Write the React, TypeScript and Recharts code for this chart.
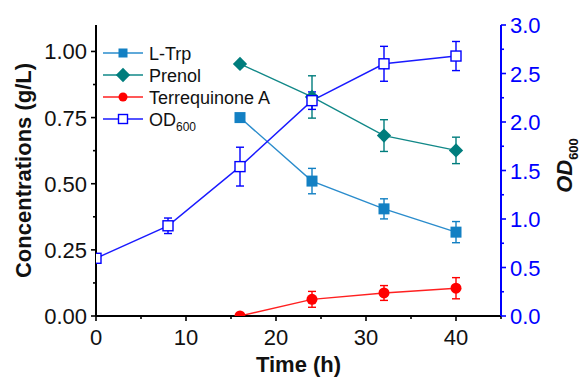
import React from "react";
import { ComposedChart, Line, XAxis, YAxis, ErrorBar, Legend } from "recharts";

const times = [0, 8, 16, 24, 32, 40];
const lTrp = [null, null, 0.75, 0.51, 0.405, 0.317];
const lTrpErr = [null, null, 0, 0.048, 0.038, 0.04];
const prenol = [null, null, 0.953, 0.828, 0.682, 0.626];
const prenolErr = [null, null, 0, 0.08, 0.06, 0.05];
const terrequinone = [null, null, 0, 0.063, 0.087, 0.105];
const terrequinoneErr = [null, null, 0, 0.03, 0.028, 0.04];
const od600 = [0.595, 0.93, 1.54, 2.22, 2.6, 2.68];
const od600Err = [0, 0.08, 0.2, 0.09, 0.18, 0.15];

const xTicks = [0, 5, 10, 15, 20, 25, 30, 35, 40, 45];
const leftTicks = [0, 0.125, 0.25, 0.375, 0.5, 0.625, 0.75, 0.875, 1.0];
const rightTicks = [0, 0.25, 0.5, 0.75, 1, 1.25, 1.5, 1.75, 2, 2.25, 2.5, 2.75, 3];

const FONT = '"Liberation Sans", Arial, Helvetica, sans-serif';
const BLUE = "#0000ff";

const data = times.map((t, i) => ({
  t,
  lTrp: lTrp[i],
  lTrpErr: lTrpErr[i],
  prenol: prenol[i],
  prenolErr: prenolErr[i],
  terrequinone: terrequinone[i],
  terrequinoneErr: terrequinoneErr[i],
  od600: od600[i],
  od600Err: od600Err[i],
}));

const series = [
  { key: "lTrp", name: "L-Trp", color: "#1380c3", line: "#2a8ccc", marker: "square" },
  { key: "prenol", name: "Prenol", color: "#007d7d", line: "#118888", marker: "diamond" },
  { key: "terrequinone", name: "Terrequinone A", color: "#ff0000", line: "#ff2020", marker: "circle" },
  { key: "od600", name: "OD", color: BLUE, line: "#1a1aff", marker: "open" },
];

function marker(type: string, color: string, cx: number, cy: number, s: number, key?: any) {
  if (type === "square")
    return <rect key={key} x={cx - s / 2} y={cy - s / 2} width={s} height={s} fill={color} />;
  if (type === "diamond") {
    const r = s * 0.65;
    return (
      <polygon key={key} points={`${cx},${cy - r} ${cx + r},${cy} ${cx},${cy + r} ${cx - r},${cy}`} fill={color} />
    );
  }
  if (type === "circle") return <circle key={key} cx={cx} cy={cy} r={s / 2} fill={color} />;
  return (
    <rect key={key} x={cx - s / 2} y={cy - s / 2} width={s} height={s} fill="#fff" stroke={color} strokeWidth={1.4} />
  );
}

const makeDot = (type: string, color: string, size: number) => (props: any) => {
  const { cx, cy, index } = props;
  if (cx == null || cy == null || isNaN(cx) || isNaN(cy)) return <g key={`e${index}`} />;
  return marker(type, color, cx, cy, size, `d${index}`);
};

const BottomTick = (props: any) => {
  const { x, y, payload } = props;
  const major = payload.value % 10 === 0;
  return (
    <g>
      <line x1={x} x2={x} y1={y} y2={y + (major ? 5 : 3)} stroke="#000" strokeWidth={1.6} />
      {major && (
        <text x={x} y={y + 29} textAnchor="middle" fontSize={22} fontFamily={FONT} fill="#111">
          {payload.value}
        </text>
      )}
    </g>
  );
};

const TopTick = (props: any) => {
  const { x, y, payload } = props;
  const major = payload.value % 10 === 0;
  return <line x1={x} x2={x} y1={y} y2={y + (major ? 5 : 3)} stroke="#000" strokeWidth={1.6} />;
};

const LeftTick = (props: any) => {
  const { x, y, payload } = props;
  const v = payload.value;
  const major = Math.abs(v * 4 - Math.round(v * 4)) < 1e-6;
  return (
    <g>
      <line x1={x - (major ? 5 : 3)} x2={x} y1={y} y2={y} stroke="#000" strokeWidth={1.6} />
      {major && (
        <text x={x - 9} y={y + 8} textAnchor="end" fontSize={22} fontFamily={FONT} fill="#111">
          {v.toFixed(2)}
        </text>
      )}
    </g>
  );
};

const RightTick = (props: any) => {
  const { x, y, payload } = props;
  const v = payload.value;
  const major = Math.abs(v * 2 - Math.round(v * 2)) < 1e-6;
  return (
    <g>
      <line x1={x} x2={x + (major ? 5 : 3)} y1={y} y2={y} stroke={BLUE} strokeWidth={1.6} />
      {major && (
        <text x={x + 9} y={y + 8} textAnchor="start" fontSize={22} fontFamily={FONT} fill={BLUE}>
          {v.toFixed(1)}
        </text>
      )}
    </g>
  );
};

const LegendBox = () => (
  <svg width={170} height={95} style={{ display: "block" }}>
    {series.map((s, i) => {
      const cy = 11 + i * 22;
      return (
        <g key={s.key}>
          <line x1={2} x2={42} y1={cy} y2={cy} stroke={s.line} strokeWidth={1.6} />
          {marker(s.marker, s.color, 22, cy, s.marker === "diamond" ? 11 : 9)}
          <text x={48} y={cy + 6.5} fontSize={18} fontFamily={FONT} fill="#111">
            {s.name}
            {s.key === "od600" && (
              <tspan fontSize={12} dy={5}>
                600
              </tspan>
            )}
          </text>
        </g>
      );
    })}
  </svg>
);

export default function App() {
  return (
    <div style={{ position: "absolute", left: 0, top: 0, background: "#fff" }}>
      <ComposedChart width={579} height={377} data={data} margin={{ top: 25, right: 0, bottom: 0, left: 0 }}>
        <XAxis
          dataKey="t"
          type="number"
          domain={[0, 45]}
          ticks={xTicks}
          interval={0}
          allowDataOverflow
          height={61}
          tickSize={0}
          tickMargin={0}
          tick={<BottomTick />}
          tickLine={false}
          axisLine={{ stroke: "#000", strokeWidth: 2 }}
          label={(p: any) => {
            const vb = p.viewBox;
            return (
              <text
                x={vb.x + vb.width / 2}
                y={vb.y + 56}
                textAnchor="middle"
                fontSize={22}
                fontWeight="bold"
                fontFamily={FONT}
                fill="#111"
              >
                Time (h)
              </text>
            );
          }}
        />
        <XAxis
          xAxisId="top"
          orientation="top"
          dataKey="t"
          type="number"
          domain={[0, 45]}
          ticks={xTicks}
          interval={0}
          allowDataOverflow
          height={0}
          tickSize={0}
          tickMargin={0}
          tick={<TopTick />}
          tickLine={false}
          axisLine={{ stroke: "#000", strokeWidth: 2 }}
        />
        <YAxis
          yAxisId="left"
          type="number"
          domain={[0, 1.1]}
          ticks={leftTicks}
          interval={0}
          allowDataOverflow
          width={96}
          tickSize={0}
          tickMargin={0}
          tick={<LeftTick />}
          tickLine={false}
          axisLine={{ stroke: "#000", strokeWidth: 2 }}
          label={(p: any) => {
            const vb = p.viewBox;
            const cx = vb.x + 31;
            const cy = vb.y + vb.height / 2;
            return (
              <text
                x={cx}
                y={cy}
                transform={`rotate(-90, ${cx}, ${cy})`}
                textAnchor="middle"
                fontSize={22}
                fontWeight="bold"
                fontFamily={FONT}
                fill="#111"
              >
                Concentrations (g/L)
              </text>
            );
          }}
        />
        <YAxis
          yAxisId="right"
          orientation="right"
          type="number"
          domain={[0, 3]}
          ticks={rightTicks}
          interval={0}
          allowDataOverflow
          width={78}
          tickSize={0}
          tickMargin={0}
          tick={<RightTick />}
          tickLine={false}
          axisLine={{ stroke: BLUE, strokeWidth: 2 }}
          label={(p: any) => {
            const vb = p.viewBox;
            const cx = vb.x + 70.5;
            const cy = vb.y + vb.height / 2 - 5;
            return (
              <text
                x={cx}
                y={cy}
                transform={`rotate(-90, ${cx}, ${cy})`}
                textAnchor="middle"
                fontSize={22}
                fontWeight="bold"
                fontStyle="italic"
                fontFamily={FONT}
                fill="#111"
              >
                OD
                <tspan fontSize={13} fontStyle="normal" dy={6}>
                  600
                </tspan>
              </text>
            );
          }}
        />
        <Legend
          layout="horizontal"
          verticalAlign="middle"
          align="center"
          content={() => <LegendBox />}
          wrapperStyle={{ left: 101, top: 42, width: 170, height: 95 }}
        />
        <Line
          yAxisId="left"
          dataKey="lTrp"
          name="L-Trp"
          stroke={series[0].line}
          strokeWidth={1.4}
          dot={makeDot("square", series[0].color, 11)}
          activeDot={false}
          isAnimationActive={false}
        >
          <ErrorBar dataKey="lTrpErr" direction="y" width={4} stroke={series[0].color} strokeWidth={1.4} />
        </Line>
        <Line
          yAxisId="left"
          dataKey="prenol"
          name="Prenol"
          stroke={series[1].line}
          strokeWidth={1.4}
          dot={makeDot("diamond", series[1].color, 11)}
          activeDot={false}
          isAnimationActive={false}
        >
          <ErrorBar dataKey="prenolErr" direction="y" width={4} stroke={series[1].color} strokeWidth={1.4} />
        </Line>
        <Line
          yAxisId="left"
          dataKey="terrequinone"
          name="Terrequinone A"
          stroke={series[2].line}
          strokeWidth={1.4}
          dot={makeDot("circle", series[2].color, 11)}
          activeDot={false}
          isAnimationActive={false}
        >
          <ErrorBar dataKey="terrequinoneErr" direction="y" width={4} stroke={series[2].color} strokeWidth={1.4} />
        </Line>
        <Line
          yAxisId="right"
          dataKey="od600"
          name="OD600"
          stroke={series[3].line}
          strokeWidth={1.4}
          dot={makeDot("open", series[3].color, 10)}
          activeDot={false}
          isAnimationActive={false}
        >
          <ErrorBar dataKey="od600Err" direction="y" width={4} stroke={series[3].color} strokeWidth={1.4} />
        </Line>
      </ComposedChart>
    </div>
  );
}
